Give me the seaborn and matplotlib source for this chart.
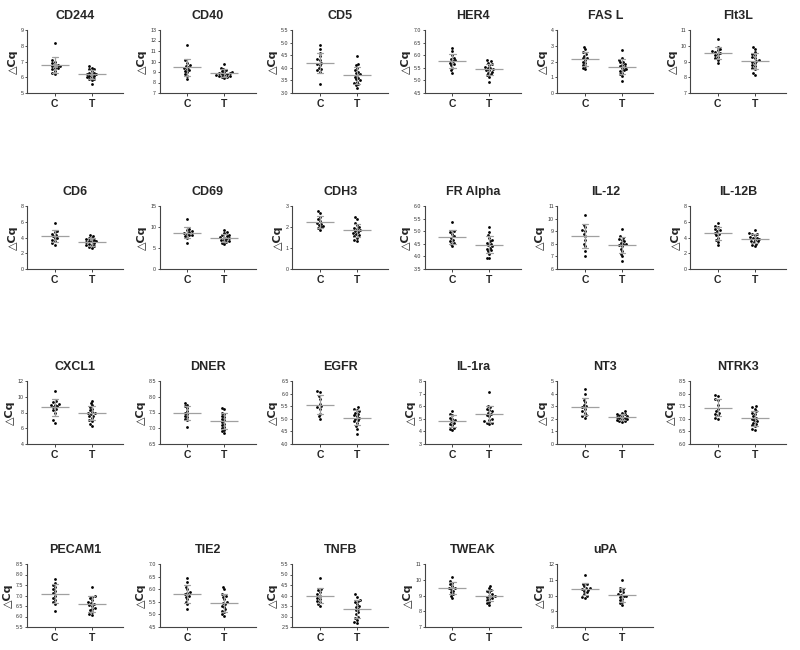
import numpy as np
import pandas as pd
import seaborn as sns
import matplotlib.pyplot as plt

# Delta Cq values per marker, control (C) and treated (T)
genes = ['CD244', 'CD40', 'CD5', 'HER4', 'FAS L', 'Flt3L',
         'CD6', 'CD69', 'CDH3', 'FR Alpha', 'IL-12', 'IL-12B',
         'CXCL1', 'DNER', 'EGFR', 'IL-1ra', 'NT3', 'NTRK3',
         'PECAM1', 'TIE2', 'TNFB', 'TWEAK', 'uPA']

cd244_c = [8.2, 7.1, 7.0, 6.9, 6.8, 6.8, 6.7, 6.7, 6.6, 6.6, 6.5, 6.4, 6.3, 6.2]
cd244_t = [6.7, 6.6, 6.5, 6.5, 6.4, 6.3, 6.3, 6.2, 6.2, 6.2, 6.1, 6.1, 6.0, 6.0, 5.9, 5.9, 5.8, 5.6]
cd40_c = [11.6, 10.1, 9.9, 9.7, 9.6, 9.5, 9.4, 9.3, 9.2, 9.1, 9.0, 8.8, 8.6, 8.3]
cd40_t = [9.8, 9.4, 9.3, 9.2, 9.1, 9.0, 9.0, 8.9, 8.9, 8.8, 8.8, 8.7, 8.7, 8.6, 8.6, 8.5, 8.5, 8.4]
cd5_c = [4.9, 4.75, 4.6, 4.45, 4.35, 4.3, 4.2, 4.15, 4.1, 4.0, 3.95, 3.9, 3.85, 3.35]
cd5_t = [4.45, 4.15, 4.1, 4.0, 3.9, 3.85, 3.8, 3.75, 3.7, 3.65, 3.6, 3.55, 3.5, 3.45, 3.4, 3.35, 3.3, 3.2]
her4_c = [6.3, 6.15, 6.0, 5.9, 5.85, 5.8, 5.75, 5.7, 5.65, 5.6, 5.5, 5.4, 5.3]
her4_t = [5.8, 5.75, 5.7, 5.65, 5.6, 5.55, 5.5, 5.5, 5.45, 5.4, 5.4, 5.35, 5.3, 5.25, 5.2, 5.15, 4.95]
fasl_c = [2.95, 2.8, 2.6, 2.5, 2.35, 2.25, 2.2, 2.1, 2.0, 1.9, 1.8, 1.7, 1.6, 1.5]
fasl_t = [2.75, 2.2, 2.1, 2.0, 1.95, 1.85, 1.8, 1.7, 1.65, 1.6, 1.5, 1.45, 1.4, 1.3, 1.2, 1.1, 0.75]
flt3l_c = [10.45, 9.9, 9.8, 9.7, 9.65, 9.6, 9.55, 9.5, 9.4, 9.3, 9.2, 9.1, 8.9]
flt3l_t = [9.95, 9.8, 9.6, 9.5, 9.4, 9.3, 9.2, 9.1, 9.05, 9.0, 8.9, 8.8, 8.7, 8.6, 8.5, 8.3, 8.15]

cd6_c = [5.8, 4.8, 4.7, 4.5, 4.3, 4.2, 4.0, 3.9, 3.7, 3.5, 3.3, 3.1]
cd6_t = [4.3, 4.2, 4.0, 3.9, 3.8, 3.7, 3.6, 3.5, 3.5, 3.4, 3.3, 3.2, 3.1, 3.0, 2.9, 2.8, 2.7]
cd69_c = [11.8, 9.5, 9.2, 9.0, 8.8, 8.6, 8.4, 8.2, 8.0, 7.8, 7.5, 6.3]
cd69_t = [9.4, 8.8, 8.5, 8.2, 8.0, 7.8, 7.6, 7.5, 7.3, 7.1, 7.0, 6.8, 6.6, 6.4, 6.2, 5.9]
cdh3_c = [2.75, 2.65, 2.5, 2.4, 2.3, 2.2, 2.15, 2.1, 2.05, 2.0, 1.95, 1.85]
cdh3_t = [2.5, 2.4, 2.2, 2.1, 2.0, 1.95, 1.9, 1.85, 1.8, 1.75, 1.7, 1.65, 1.6, 1.55, 1.5, 1.4, 1.35]
fra_c = [5.38, 5.0, 4.95, 4.9, 4.8, 4.75, 4.65, 4.6, 4.55, 4.5, 4.4]
fra_t = [5.15, 4.95, 4.85, 4.75, 4.65, 4.6, 4.55, 4.5, 4.45, 4.4, 4.35, 4.3, 4.25, 4.2, 4.1, 3.95, 3.93]
il12_c = [10.3, 9.5, 9.3, 9.1, 9.0, 8.8, 8.6, 8.3, 8.0, 7.8, 7.4, 7.0]
il12_t = [9.15, 8.6, 8.5, 8.4, 8.3, 8.2, 8.1, 8.0, 8.0, 7.9, 7.8, 7.6, 7.4, 7.2, 7.0, 6.6]
il12b_c = [5.8, 5.5, 5.3, 5.1, 4.9, 4.8, 4.6, 4.5, 4.3, 4.0, 3.7, 3.4, 3.0]
il12b_t = [4.9, 4.6, 4.5, 4.4, 4.3, 4.1, 4.0, 3.9, 3.8, 3.7, 3.6, 3.5, 3.4, 3.2, 3.0, 2.9]

cxcl1_c = [10.7, 9.5, 9.3, 9.1, 9.0, 8.9, 8.8, 8.7, 8.5, 8.3, 8.0, 7.0, 6.7]
cxcl1_t = [9.5, 9.2, 8.9, 8.7, 8.5, 8.3, 8.1, 8.0, 7.9, 7.8, 7.6, 7.5, 7.3, 7.1, 6.9, 6.6, 6.3]
dner_c = [7.8, 7.75, 7.7, 7.65, 7.55, 7.5, 7.45, 7.4, 7.35, 7.3, 7.25, 7.05]
dner_t = [7.65, 7.6, 7.5, 7.45, 7.4, 7.35, 7.3, 7.25, 7.2, 7.15, 7.1, 7.05, 7.0, 6.95, 6.9, 6.85]
egfr_c = [6.1, 6.05, 5.9, 5.8, 5.6, 5.5, 5.45, 5.4, 5.2, 5.1, 5.0]
egfr_t = [5.45, 5.4, 5.35, 5.3, 5.25, 5.2, 5.15, 5.1, 5.05, 5.0, 4.95, 4.9, 4.85, 4.7, 4.6, 4.4]
il1ra_c = [5.6, 5.4, 5.3, 5.1, 5.0, 4.9, 4.8, 4.7, 4.6, 4.5, 4.3, 4.2, 4.1]
il1ra_t = [7.1, 6.0, 5.9, 5.8, 5.7, 5.6, 5.5, 5.4, 5.3, 5.2, 5.0, 4.9, 4.8, 4.7, 4.7, 4.6]
nt3_c = [4.35, 4.0, 3.5, 3.3, 3.1, 3.0, 2.9, 2.8, 2.6, 2.5, 2.3, 2.2, 2.1]
nt3_t = [2.6, 2.5, 2.4, 2.35, 2.3, 2.25, 2.2, 2.15, 2.1, 2.05, 2.0, 1.95, 1.9, 1.85, 1.8, 1.75]
ntrk3_c = [7.95, 7.9, 7.8, 7.75, 7.55, 7.4, 7.3, 7.25, 7.2, 7.15, 7.05, 7.0]
ntrk3_t = [7.5, 7.45, 7.4, 7.3, 7.25, 7.2, 7.1, 7.05, 7.0, 6.95, 6.9, 6.85, 6.8, 6.75, 6.7, 6.6, 6.55]

pecam1_c = [7.8, 7.6, 7.5, 7.4, 7.3, 7.2, 7.1, 7.0, 6.9, 6.8, 6.7, 6.6, 6.25]
pecam1_t = [7.4, 7.0, 6.95, 6.9, 6.8, 6.7, 6.65, 6.6, 6.55, 6.5, 6.4, 6.35, 6.3, 6.2, 6.1, 6.05]
tie2_c = [6.45, 6.3, 6.1, 6.0, 5.9, 5.85, 5.8, 5.75, 5.7, 5.6, 5.5, 5.4, 5.2]
tie2_t = [6.1, 6.0, 5.8, 5.75, 5.7, 5.6, 5.5, 5.45, 5.4, 5.35, 5.3, 5.2, 5.15, 5.1, 5.0, 4.95]
tnfb_c = [4.85, 4.3, 4.25, 4.15, 4.05, 4.0, 3.9, 3.85, 3.75, 3.7, 3.6, 3.5]
tnfb_t = [4.05, 3.95, 3.8, 3.75, 3.7, 3.6, 3.5, 3.45, 3.35, 3.3, 3.2, 3.1, 3.0, 2.95, 2.85, 2.75, 2.7]
tweak_c = [10.2, 9.9, 9.8, 9.7, 9.6, 9.5, 9.45, 9.4, 9.3, 9.2, 9.1, 9.0, 8.85]
tweak_t = [9.6, 9.45, 9.35, 9.3, 9.2, 9.1, 9.0, 8.95, 8.9, 8.85, 8.8, 8.7, 8.6, 8.5, 8.4]
upa_c = [11.3, 10.75, 10.7, 10.6, 10.5, 10.45, 10.4, 10.35, 10.3, 10.2, 10.1, 10.0, 9.9, 9.85]
upa_t = [11.0, 10.5, 10.4, 10.3, 10.2, 10.1, 10.05, 10.0, 9.95, 9.9, 9.8, 9.7, 9.6, 9.5, 9.4]

control = [cd244_c, cd40_c, cd5_c, her4_c, fasl_c, flt3l_c,
           cd6_c, cd69_c, cdh3_c, fra_c, il12_c, il12b_c,
           cxcl1_c, dner_c, egfr_c, il1ra_c, nt3_c, ntrk3_c,
           pecam1_c, tie2_c, tnfb_c, tweak_c, upa_c]
treated = [cd244_t, cd40_t, cd5_t, her4_t, fasl_t, flt3l_t,
           cd6_t, cd69_t, cdh3_t, fra_t, il12_t, il12b_t,
           cxcl1_t, dner_t, egfr_t, il1ra_t, nt3_t, ntrk3_t,
           pecam1_t, tie2_t, tnfb_t, tweak_t, upa_t]

# y axis range and tick step per panel
y_min = [5, 7, 3.0, 4.5, 0, 7,
         0, 0, 0, 3.5, 6, 0,
         4, 6.5, 4.0, 3, 0, 6.0,
         5.5, 4.5, 2.5, 7, 8]
y_max = [9, 13, 5.5, 7.0, 4, 11,
         8, 15, 3, 6.0, 11, 8,
         12, 8.5, 6.5, 8, 5, 8.5,
         8.5, 7.0, 5.5, 11, 12]
y_step = [1, 1, 0.5, 0.5, 1, 1,
          2, 5, 1, 0.5, 1, 2,
          2, 0.5, 0.5, 1, 1, 0.5,
          0.5, 0.5, 0.5, 1, 1]

sns.set_style('ticks')
plt.rcParams['font.family'] = ['Liberation Sans', 'DejaVu Sans']

W, H = 800, 650
fig = plt.figure(figsize=(8, 6.5), dpi=100)

row_top = [30, 206, 381, 564]
ax_w, ax_h = 96, 63

for i, gene in enumerate(genes):
    r, c = divmod(i, 6)
    left = 27 + 132.6 * c
    ax = fig.add_axes([left / W, 1 - (row_top[r] + ax_h) / H, ax_w / W, ax_h / H])

    df = pd.DataFrame({
        'group': ['C'] * len(control[i]) + ['T'] * len(treated[i]),
        'dcq': control[i] + treated[i],
    })

    sns.swarmplot(data=df, x='group', y='dcq', order=['C', 'T'], ax=ax,
                  color='black', size=2.0, linewidth=0, warn_thresh=1)
    # mean line with SD whiskers drawn over the dots
    sns.pointplot(data=df, x='group', y='dcq', order=['C', 'T'], ax=ax,
                  errorbar='sd', estimator='mean', color='#a0a0a0',
                  markers='_', markersize=20, markeredgewidth=0.9,
                  linestyle='none', capsize=0.17, zorder=4,
                  err_kws={'linewidth': 0.9, 'zorder': 4})

    ax.set_xlim(-0.75, 1.85)
    ax.set_ylim(y_min[i], y_max[i])
    ax.set_yticks(np.arange(y_min[i], y_max[i] + y_step[i] / 2, y_step[i]))
    if y_step[i] < 1:
        ax.set_yticklabels([f'{v:.1f}' for v in ax.get_yticks()])
    else:
        ax.set_yticklabels([f'{v:.0f}' for v in ax.get_yticks()])

    ax.set_title(gene, fontsize=9, fontweight='bold', pad=8)
    ax.set_xlabel('')
    ax.set_ylabel('\u25b3Cq', fontsize=8, fontweight='bold', family=['DejaVu Sans'], labelpad=2)
    ax.tick_params(axis='y', labelsize=3.8, length=1.5, width=0.6, pad=1, colors='#333333')
    ax.tick_params(axis='x', labelsize=7.5, length=2, width=0.6, pad=2)
    for lab in ax.get_xticklabels():
        lab.set_fontweight('bold')
    for side in ['left', 'bottom']:
        ax.spines[side].set_linewidth(0.8)
        ax.spines[side].set_color('#444444')
    sns.despine(ax=ax)

plt.savefig('out.png', dpi=100)
